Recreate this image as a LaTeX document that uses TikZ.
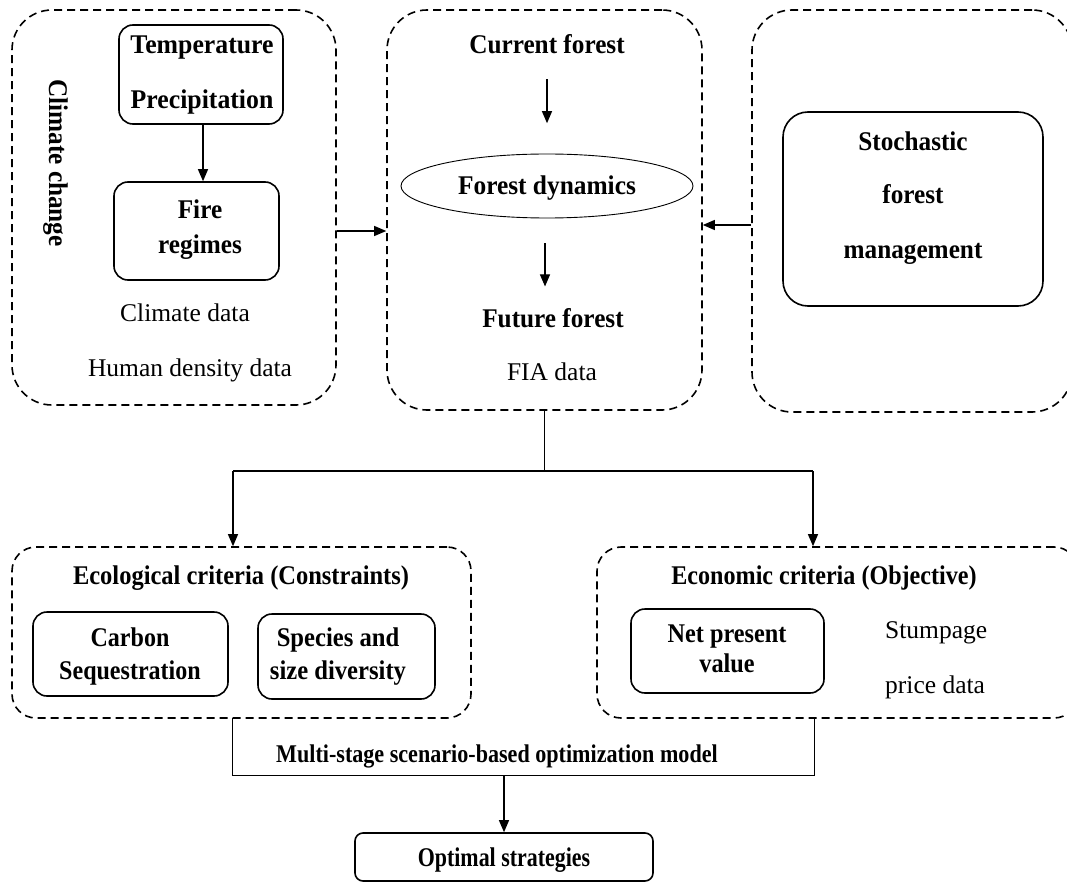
\documentclass[tikz,border=0pt]{standalone}
\usepackage{fontspec}
\setmainfont{Liberation Serif}
\usetikzlibrary{arrows.meta,shapes.geometric,calc}
\begin{document}
\begin{tikzpicture}[x=1pt,y=-1pt,
 dbox/.style={draw,dash pattern=on 8pt off 5pt,line width=1.6pt,rounded corners=40pt,inner sep=0pt},
 ebox/.style={draw,dash pattern=on 8pt off 5pt,line width=1.6pt,rounded corners=24pt,inner sep=0pt},
 sbox/.style={draw,line width=1.6pt,rounded corners=14pt,inner sep=0pt},
 arr/.style={line width=1.1pt,-{Triangle[length=12pt,width=10pt]}},
 ln/.style={line width=1.1pt},
 bt/.style={font=\fontsize{27}{30}\selectfont\bfseries\addfontfeature{FakeStretch=#1},inner sep=0pt,text height=20pt,text depth=2pt},
 bt/.default=0.935,
 rt/.style={font=\fontsize{25.5}{30}\selectfont,inner sep=0pt,text height=19pt,text depth=3pt},
]
\useasboundingbox (0,0) rectangle (1067,882);
\clip (0,0) rectangle (1067,882);

% ---- Climate change group
\node[dbox,minimum width=324pt,minimum height=395pt] (clim) at (174,207.5) {};
\node[bt,rotate=-90] (cc) at (58,163) {Climate change};
\node[sbox,minimum width=164pt,minimum height=99pt] (tp) at (201,74.5) {};
\node[bt=0.954] (tpt) at (202,45) {Temperature};
\node[bt=0.954] (tpp) at (202,100) {Precipitation};
\node[sbox,minimum width=165pt,minimum height=98pt] (fire) at (196.5,231) {};
\node[bt] (fire1) at (200,210) {Fire};
\node[bt] (fire2) at (200,245) {regimes};
\node[rt] (cd) at (185,313) {Climate data};
\node[rt] (hd) at (190,368) {Human density data};
\draw[arr] (tp.south -| 203,0) -- (fire.north -| 203,0);

% ---- Forest group
\node[dbox,minimum width=315pt,minimum height=400pt] (forest) at (544.5,210) {};
\node[bt] (cf) at (547,45) {Current forest};
\node[draw,ellipse,line width=0.9pt,minimum width=292pt,minimum height=64pt,inner sep=0pt] (fd) at (547,186) {};
\node[bt=0.94] (fdt) at (fd.center) {Forest dynamics};
\node[bt] (ff) at (553,318) {Future forest};
\node[rt] (fia) at (552,372) {FIA data};
\draw[arr] (cf.south) ++(0,23) -- ++(0,44);
\draw[arr] (fd.south) ++(-2,25) -- ++(0,43);

% ---- Management group
\node[dbox,minimum width=320pt,minimum height=402pt] (mgmt) at (912,211) {};
\node[sbox,rounded corners=25pt,minimum width=260pt,minimum height=194pt] (stoch) at (913,209) {};
\node[bt] (st1) at (913,142) {Stochastic};
\node[bt] (st2) at (913,195) {forest};
\node[bt] (st3) at (913,250) {management};

% ---- arrows into forest
\draw[arr] (clim.east |- fire.center) -- (forest.west |- fire.center);
\coordinate (rA) at (mgmt.west |- 0,225);
\draw[arr] (rA) -- (forest.east |- rA);

% ---- branch
\coordinate (bl) at (233,471);
\coordinate (brr) at (813,471);
\draw[ln] (forest.south) -- (forest.south |- bl);
\draw[ln] (bl) -- (brr);

% ---- Ecological criteria
\node[ebox,minimum width=459pt,minimum height=171pt] (ecol) at (241.5,632.5) {};
\node[bt=0.907] (ect) at (241,575) {Ecological criteria (Constraints)};
\node[sbox,minimum width=195pt,minimum height=84pt] (carb) at (130.5,654) {};
\node[bt=0.89] (carb1) at (130,637) {Carbon};
\node[bt=0.89] (carb2) at (130,670) {Sequestration};
\node[sbox,minimum width=177pt,minimum height=85pt] (spec) at (346.5,656.5) {};
\node[bt=0.912] (spec1) at (338,637) {Species and};
\node[bt=0.912] (spec2) at (338,670) {size diversity};

% ---- Economic criteria
\node[ebox,minimum width=481pt,minimum height=171pt] (econ) at (837.5,632.5) {};
\node[bt=0.893] (eot) at (824,575) {Economic criteria (Objective)};
\node[sbox,minimum width=193pt,minimum height=84pt] (npv) at (727.5,651) {};
\node[bt=0.898] (npv1) at (727,633) {Net present};
\node[bt=0.898] (npv2) at (727,663) {value};
\node[rt,anchor=west] (stp1) at (885,630) {Stumpage};
\node[rt,anchor=west] (stp2) at (885,685) {price data};

\draw[arr] (bl) -- (bl |- ecol.north);
\draw[arr] (brr) -- (brr |- econ.north);

% ---- Multi-stage model
\node[minimum width=581pt,minimum height=57pt,inner sep=0pt] (msm) at (523.5,746.5) {};
\draw[ln] (msm.north west) -- (msm.south west) -- (msm.south east) -- (msm.north east);
\node[bt=0.867,font=\fontsize{25.5}{30}\selectfont\bfseries\addfontfeature{FakeStretch=0.867}] (msmt) at (497,753) {Multi-stage scenario-based optimization model};

% ---- Optimal strategies
\node[sbox,rounded corners=8pt,minimum width=298pt,minimum height=48pt] (opt) at (504,857) {};
\node[bt=0.812] (optt) at (opt.center) {Optimal strategies};
\draw[arr] (msm.south -| opt.north) -- (opt.north);
\end{tikzpicture}
\end{document}
